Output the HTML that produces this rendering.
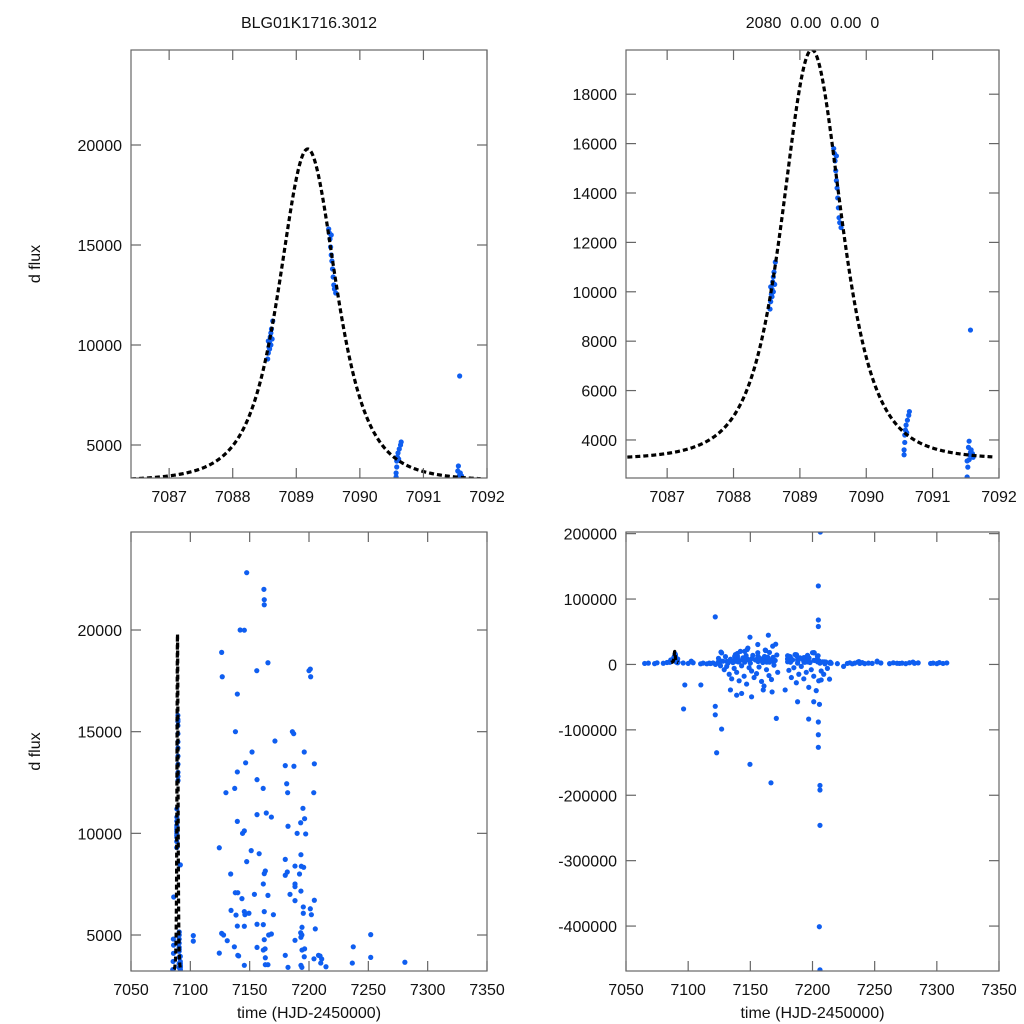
<!DOCTYPE html>
<html><head><meta charset="utf-8"><style>
html,body{margin:0;padding:0;background:#fff;overflow:hidden;width:1024px;height:1024px;}
svg{display:block;font-family:"Liberation Sans",sans-serif;}
</style></head><body>
<svg id="chart" width="1024" height="1024" viewBox="0 0 1024 1024"></svg>
<script>
// ---- data: light curve observations ----
const eventTimes = [7088.55,7088.56,7088.57,7088.58,7088.59,7088.60,7088.61,7088.62,7088.58,7088.56,7088.60,7088.63,
 7089.51,7089.52,7089.53,7089.54,7089.55,7089.56,7089.57,7089.58,7089.59,7089.60,7089.62,7089.55,
 7090.57,7090.57,7090.58,7090.58,7090.59,7090.60,7090.61,7090.62,7090.64,7090.65,
 7091.52,7091.53,7091.55,7091.56,7091.57,7091.58,7091.60,7091.61,7091.57,7091.55,7091.52,7091.54,
 7085.2,7085.5,7085.8,7085.9,7086.0,7085.7];
const eventFlux = [9300,9600,9900,10100,10400,10600,10800,10300,9800,10200,10000,11200,
 15800,15600,15300,14900,14500,14200,13800,13400,13000,12800,12600,15500,
 3400,3600,3900,4200,4400,4600,4300,4800,5000,5150,
 2500,2900,3200,3400,3500,3600,3450,3300,8450,3950,3150,3700,
 3300,3700,4100,4500,6870,4800];
const seasonTimes = [7147.5,7162.3,7162.3,7145.5,7126.4,7165.4,7201.1,7139.6,7187.1,7171.3,7146.6,7180,7187.3,7204.5,7139.6,7156.2,7137.4,7161.4,7181.2,7194.9,7196.3,7193,7156.2,7168.3,7182.3,7139.6,7145.5,7197.2,7124.4,7151.3,7147.5,7180,7193.2,7188.2,7193.5,7195.5,7163.2,7162.3,7181.7,7180,7161.5,7188.2,7188.2,7193.2,7137.9,7140,7165.4,7143.5,7188.2,7204.5,7201.1,7195.2,7195.2,7134.3,7138.5,7145.5,7149.4,7162.3,7139.6,7145.5,7156.2,7161.5,7194.1,7205.3,7126.4,7168.3,7193,7252,7102.5,7102.5,7131.1,7162.3,7188.2,7193.2,7137.1,7156.2,7161.5,7163,7194.1,7196.3,7237.3,7124.4,7140.7,7163.2,7196,7204.2,7209.3,7210.7,7252,7145.5,7163.2,7165.4,7182.3,7193.2,7194,7209.9,7214.3,7236.5,7280.8];
const seasonFlux = [22820,21490,21240,19990,18900,18390,18080,16850,14900,14540,13470,13330,13300,13420,13020,12640,12210,12210,12440,11230,10720,10520,10920,10800,10350,10590,10120,9970,9290,9150,8610,8720,8950,8390,8380,8330,8150,8020,8100,7940,7510,7510,7380,7160,7080,7080,6950,6790,6690,6710,6290,6380,6070,6210,5980,6150,6070,6150,5440,5430,5530,5510,5380,5300,5080,5050,5110,5020,4970,4700,4720,4770,4740,4890,4420,4390,4260,4320,4260,4320,4420,4110,3970,3880,3930,3830,3970,3820,3900,3510,3540,3540,3410,3510,3410,3620,3440,3620,3660];
const outlierTimes = [7206.3,7204.7,7204.7,7204.7,7121.8,7149.7,7164.5,7156,7170.4,7126.9,7201.4,7097.3,7110.2,7096.3,7121.8,7121.8,7126.9,7122.9,7149.7,7170.9,7188,7196.9,7201,7205.6,7204.7,7204.7,7204.7,7206,7206,7206,7205.5,7206,7166.6,7151,7139,7143,7160.4,7167.5,7178,7134,7213.7,7207];
const outlierFlux = [202500,120000,68000,58000,72700,41700,44700,30500,31000,17700,17700,-31300,-31300,-68000,-64000,-77000,-98800,-135000,-152700,-82500,-57000,-83500,-57000,-61000,-88000,-107500,-126700,-185000,-192000,-246000,-401000,-467000,-181000,-49500,-47000,-44300,-39000,-42000,-39000,-39000,-22500,-23700];
const clusterTimes = [7128,7129,7130,7131,7132,7133,7134,7135,7136,7137,7138,7139,7140,7141,7142,7143,7144,7145,7146,7147,7148,7149,7150,7151,7152,7153,7154,7155,7156,7157,7158,7159,7160,7161,7162,7163,7164,7165,7166,7167,7168,7169,7170,7172,7180,7181,7182,7183,7184,7185,7186,7187,7188,7189,7190,7191,7192,7193,7194,7195,7196,7197,7198,7199,7200,7201,7202,7203,7204,7205,7206,7207,7208,7209,7210,7212,7214,7115,7117,7122,7124,7126];
const clusterFlux = [5000,-8000,12000,-3000,2000,-15000,8000,-22000,3000,-6000,15000,-12000,4000,-25000,20000,-2000,10000,-18000,6000,-30000,25000,-5000,2000,-10000,14000,-20000,7000,-14000,18000,-4000,9000,-26000,3000,-33000,22000,-8000,11000,-17000,5000,-23000,28000,-1000,6000,-12000,4000,-9000,12000,-20000,7000,-5000,15000,-28000,2000,-15000,10000,-3000,8000,-22000,5000,-12000,14000,-35000,3000,-8000,18000,-18000,6000,-40000,12000,-25000,2000,-10000,4000,-15000,1000,-6000,2000,1000,2000,0,3000,-2000];
const baseTimes = [7065,7068,7073,7075,7080,7083,7096,7100,7104,7110,7112,7118,7120,7215,7220,7225,7228,7230,7232,7234,7238,7240,7242,7245,7248,7255,7262,7265,7268,7270,7272,7275,7278,7282,7285,7295,7297,7300,7302,7305,7308];
const baseFlux = [1500,2000,1200,2500,1800,3000,2200,1500,2600,1000,2000,1400,2300,1800,1200,-3000,1500,2500,1000,2000,1500,2800,1200,2000,1600,2200,1300,2500,1800,1500,2000,1200,2600,1800,2400,1500,2000,1200,2800,1500,2300];
// model (fit) parameters: t0, peak excess, width, baseline
const modelParams = [7089.18, 16600, 0.82, 3200];

const times = [].concat(eventTimes, seasonTimes, outlierTimes, clusterTimes, baseTimes);
const flux = [].concat(eventFlux, seasonFlux, outlierFlux, clusterFlux, baseFlux);

// tick arrays
const ticksTLx = [7087,7088,7089,7090,7091,7092];
const ticksTLy = [5000,10000,15000,20000];
const ticksTRy = [4000,6000,8000,10000,12000,14000,16000,18000];
const ticksBx = [7050,7100,7150,7200,7250,7300,7350];
const ticksBLy = [5000,10000,15000,20000];
const ticksBRy = [-400000,-300000,-200000,-100000,0,100000,200000];

const NS = "http://www.w3.org/2000/svg";
const svg = document.getElementById("chart");
function mk(tag, attrs, parent){ const e=document.createElementNS(NS,tag); for(const k in attrs) e.setAttribute(k,attrs[k]); (parent||svg).appendChild(e); return e; }
function model(t){ const [t0,A,w,b]=modelParams; const x=(t-t0)/w; return b + A/Math.pow(1+x*x,2); }

function panel(id, x0,x1,y0,y1, xd, yd, xt, yt, title, ytitle, xtitle){
  const g = mk("g",{});
  
  
  const sx = t => x0 + (t-xd[0])/(xd[1]-xd[0])*(x1-x0);
  const sy = f => y1 - (f-yd[0])/(yd[1]-yd[0])*(y1-y0);
  const cp = mk("clipPath",{id:"clip-"+id},g);
  mk("rect",{x:x0,y:y0,width:x1-x0,height:y1-y0},cp);
  const pg = mk("g",{"clip-path":"url(#clip-"+id+")"},g);
  for(let i=0;i<times.length;i++){
    const t=times[i], f=flux[i];
    if(t<xd[0]-1||t>xd[1]+1) continue;
    const c = mk("circle",{cx:sx(t).toFixed(2),cy:sy(f).toFixed(2),r:2.6,fill:"#0f5ef0"},pg);
    
    
  }
  let d="";
  for(let t=7086.4;t<=7091.9001;t+=0.01){ d+=(d?"L":"M")+sx(t).toFixed(2)+","+sy(model(t)).toFixed(2); }
  const mp = mk("path",{d:d,fill:"none",stroke:"#000","stroke-width":3.2,"stroke-dasharray":"5,3"},pg);
  
  
  const fr = mk("rect",{x:x0,y:y0,width:x1-x0,height:y1-y0,fill:"none",stroke:"#666","stroke-width":1.2},g);
  
  
  xt.forEach(v=>{
    const x=sx(v);
    mk("line",{x1:x,x2:x,y1:y1,y2:y1-10,stroke:"#666","stroke-width":1.2},g);
    mk("line",{x1:x,x2:x,y1:y0,y2:y0+10,stroke:"#666","stroke-width":1.2},g);
    const tx = mk("text",{x:x,y:y1+24,"text-anchor":"middle","font-size":16,fill:"#111"},g);
    tx.textContent=v;
    
    
  });
  yt.forEach(v=>{
    const y=sy(v);
    mk("line",{x1:x0,x2:x0+10,y1:y,y2:y,stroke:"#666","stroke-width":1.2},g);
    mk("line",{x1:x1,x2:x1-10,y1:y,y2:y,stroke:"#666","stroke-width":1.2},g);
    const tx = mk("text",{x:x0-9,y:y+6,"text-anchor":"end","font-size":16,fill:"#111"},g);
    tx.textContent=v;
    
    
  });
  if(title){
    const tt = mk("text",{x:(x0+x1)/2,y:y0-22,"text-anchor":"middle","font-size":16,fill:"#111",style:"white-space:pre"},g);
    tt.textContent=title;
    
    
  }
  if(ytitle){
    const cy=(y0+y1)/2;
    const yl = mk("text",{x:40,y:cy,"text-anchor":"middle","font-size":16,fill:"#111",transform:"rotate(-90 40 "+cy+")"},g);
    yl.textContent=ytitle;
    
    
  }
  if(xtitle){
    const xl = mk("text",{x:(x0+x1)/2,y:y1+47,"text-anchor":"middle","font-size":16,fill:"#111"},g);
    xl.textContent=xtitle;
    
    
  }
}
panel("zoom-panel-left",131,487,50,478,[7086.40,7092],[3350,24750],ticksTLx,ticksTLy,"BLG01K1716.3012","d flux",null);
panel("zoom-panel-right",626,999,50,478,[7086.38,7092],[2460,19790],ticksTLx,ticksTRy,"2080  0.00  0.00  0",null,null);
panel("full-panel-left",131,487,532,971,[7050,7350],[3230,24820],ticksBx,ticksBLy,null,"d flux","time (HJD-2450000)");
panel("full-panel-right",626,999,532,971,[7050,7350],[-468700,202500],ticksBx,ticksBRy,null,null,"time (HJD-2450000)");
</script>
</body></html>
